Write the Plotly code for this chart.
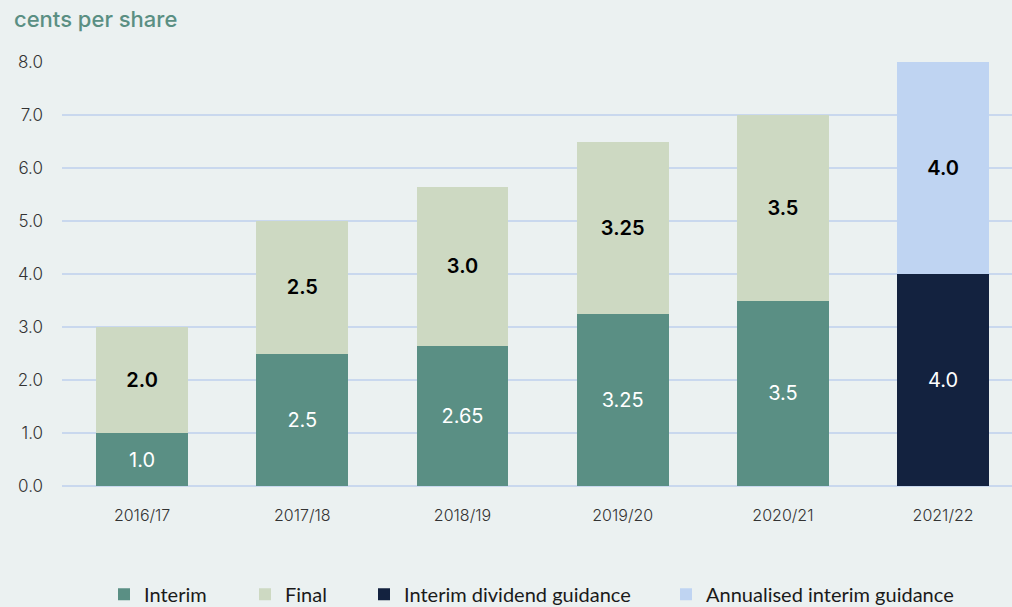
import plotly.graph_objects as go

categories = ["2016/17", "2017/18", "2018/19", "2019/20", "2020/21", "2021/22"]
interim = [1.0, 2.5, 2.65, 3.25, 3.5, None]
final = [2.0, 2.5, 3.0, 3.25, 3.5, None]
guidance = [None, None, None, None, None, 4.0]
annualised = [None, None, None, None, None, 4.0]
tick_vals = [0, 1, 2, 3, 4, 5, 6, 7, 8]
tick_text = ["0.0", "1.0", "2.0", "3.0", "4.0", "5.0", "6.0", "7.0", "8.0"]


def fmt(vals):
    out = []
    for v in vals:
        if v is None:
            out.append("")
        elif abs(v * 10 - round(v * 10)) < 1e-9:
            out.append(f"{v:.1f}")
        else:
            out.append(f"{v:g}")
    return out


series = [
    ("Interim", interim, "#5a8f84", "white", 400, "legend", 104),
    ("Final", final, "#cdd9c2", "black", 600, "legend2", 245),
    ("Interim dividend guidance", guidance, "#13223f", "white", 400, "legend3", 364),
    ("Annualised interim guidance", annualised, "#bfd4f2", "black", 600, "legend4", 666),
]

L, W = 62, 950

fig = go.Figure()
legends = {}
for name, vals, color, tcol, w, lg, lx in series:
    fig.add_trace(go.Bar(
        name=name, x=categories, y=vals, marker=dict(color=color, line=dict(width=0)),
        text=fmt(vals), textposition="inside", insidetextanchor="middle",
        textfont=dict(family="Inter", size=20, color=tcol, weight=w),
        textangle=0, hoverinfo="skip", legend=lg,
    ))
    legends[lg] = dict(orientation="h", x=(lx - L) / W, xanchor="left",
                       y=-0.2095, yanchor="top", bgcolor="rgba(0,0,0,0)",
                       font=dict(family="Lato", size=20, color="#1a1a1a"))

fig.update_layout(
    barmode="stack", bargap=0.426,
    width=1012, height=607,
    margin=dict(l=L, r=0, t=62, b=121, autoexpand=False),
    paper_bgcolor="#ebf1f1", plot_bgcolor="#ebf1f1",
    title=dict(text="cents per share", x=14 / 1012, xanchor="left", xref="container",
               y=1 - 19 / 607, yanchor="middle", yref="container",
               font=dict(family="Inter", size=22, color="#5a8f83", weight=500)),
    xaxis=dict(range=[-0.5, 5.43], showgrid=False, showline=False, ticks="",
               tickfont=dict(family="Inter", size=16, color="#333333", weight=300),
               ticklabelstandoff=18),
    yaxis=dict(range=[0, 8], tickvals=tick_vals, ticktext=tick_text,
               showgrid=True, gridcolor="#c9d8ee", gridwidth=2,
               zeroline=True, zerolinecolor="#c9d8ee", zerolinewidth=2,
               tickfont=dict(family="Inter", size=17, color="#333333", weight=300),
               ticks="", ticklabelstandoff=18),
    showlegend=True,
    **legends,
)

fig.write_html("out.html", config={"displayModeBar": False},
               post_script="document.body.style.margin='0';document.body.style.overflow='hidden';")
